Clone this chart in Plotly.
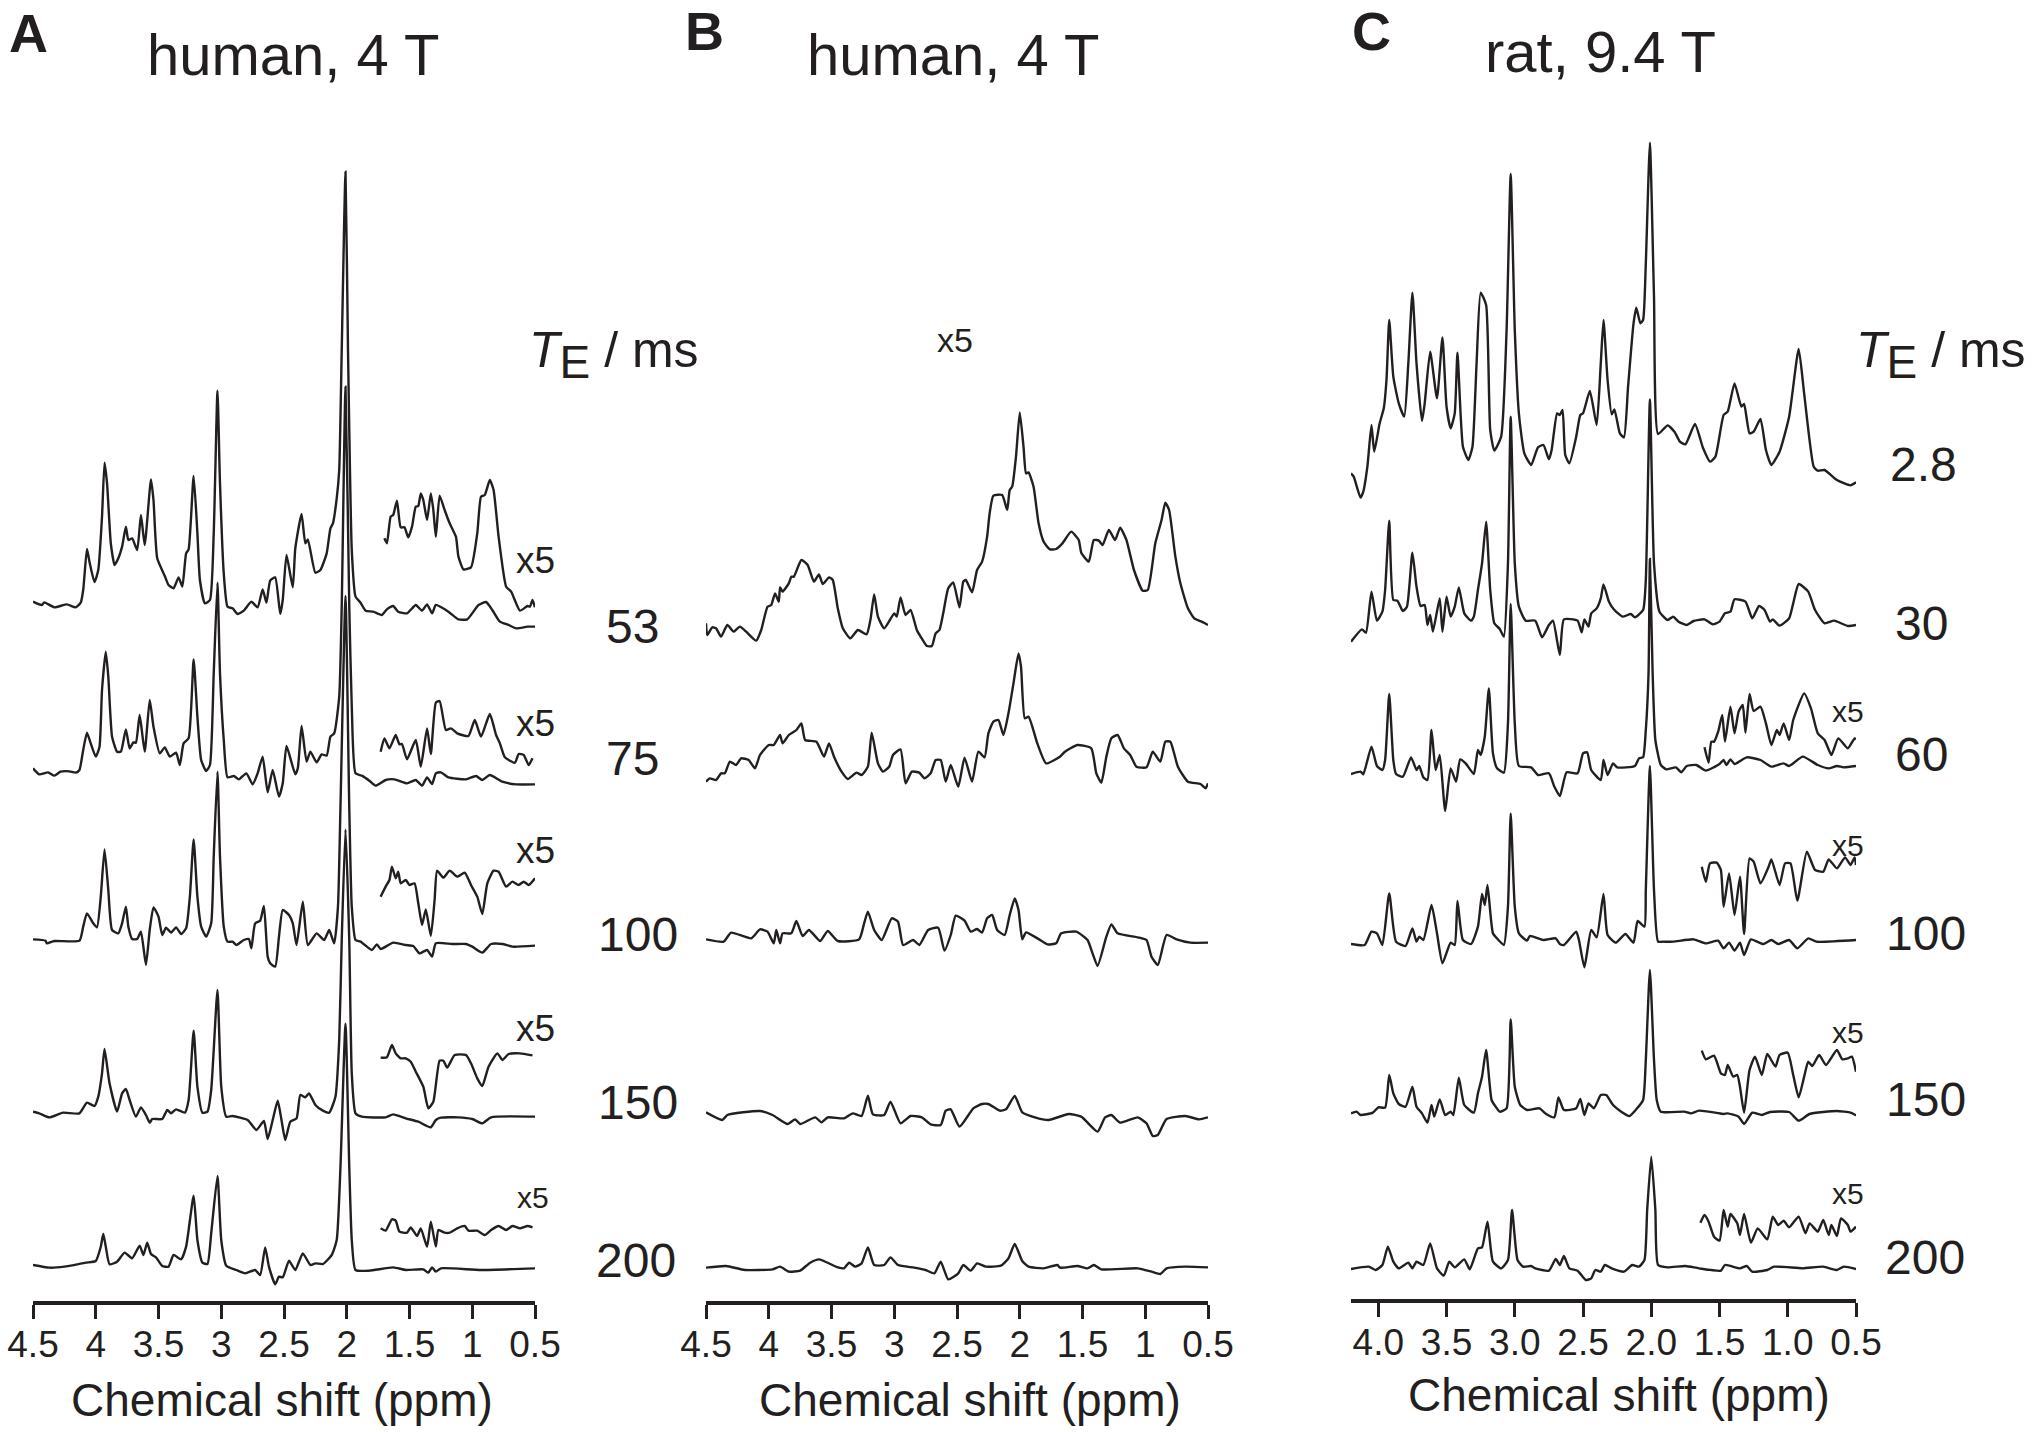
import plotly.graph_objects as go

INK = "#231f20"

# ---------- Panel A: human, 4 T (intensity in arbitrary units above each spectrum's baseline) ----------
A53_PPM = [4.5,4.43,4.41,4.33,4.23,4.16,4.12,4.10,4.07,4.05,4.01,3.98,3.95,3.93,3.91,3.88,3.85,3.82,3.79,3.76,3.74,3.71,3.67,3.64,3.61,3.56,3.54,3.51,3.45,3.42,3.38,3.34,3.31,3.28,3.26,3.22,3.19,3.17,3.13,3.09,3.06,3.03,3.01,2.98,2.95,2.91,2.87,2.82,2.76,2.71,2.67,2.64,2.61,2.57,2.53,2.51,2.48,2.43,2.41,2.36,2.33,2.31,2.25,2.21,2.16,2.13,2.11,2.08,2.06,2.04,2.01,1.99,1.96,1.93,1.89,1.85,1.79,1.72,1.68,1.63,1.59,1.52,1.45,1.40,1.36,1.32,1.29,1.19,1.11,1.04,0.95,0.89,0.84,0.78,0.71,0.65,0.56,0.5]
A53_INT = [0,-10,-2,-17,-8,-17,-3,35,158,120,59,95,255,417,355,175,110,130,165,225,185,190,155,260,170,367,305,130,77,50,40,73,45,145,157,377,205,65,-5,5,205,633,355,85,-15,-20,-37,-27,0,-17,37,-3,63,73,-37,5,140,43,160,263,175,187,87,95,145,220,235,310,395,755,1290,755,155,15,-3,-27,-30,-40,-23,-13,-30,-35,-10,-27,-8,-35,-10,-30,-53,-53,-10,-1,-25,-60,-70,-80,-75,-75]
A53_X5_PPM = [1.70,1.68,1.65,1.63,1.60,1.57,1.54,1.51,1.48,1.45,1.43,1.41,1.39,1.36,1.33,1.31,1.29,1.26,1.22,1.18,1.13,1.11,1.07,1.01,0.96,0.93,0.90,0.86,0.83,0.79,0.73,0.69,0.62,0.56,0.54,0.52,0.5]
A53_X5_INT = [190,175,255,260,303,223,223,193,225,285,287,325,305,245,325,275,195,318,275,235,195,135,97,103,205,315,320,365,335,195,45,30,-27,-13,-15,5,-17]

A75_PPM = [4.5,4.45,4.38,4.33,4.28,4.21,4.16,4.13,4.10,4.07,4.04,4.0,3.97,3.95,3.92,3.90,3.87,3.83,3.8,3.76,3.73,3.7,3.68,3.65,3.61,3.57,3.54,3.49,3.45,3.41,3.36,3.33,3.3,3.26,3.22,3.19,3.16,3.12,3.09,3.06,3.03,3.01,2.98,2.95,2.9,2.86,2.8,2.75,2.71,2.67,2.63,2.59,2.54,2.51,2.48,2.41,2.39,2.36,2.32,2.29,2.24,2.2,2.16,2.13,2.1,2.06,2.04,2.01,1.98,1.96,1.93,1.88,1.82,1.77,1.69,1.62,1.52,1.45,1.4,1.36,1.32,1.29,1.25,1.19,1.05,0.97,0.92,0.86,0.76,0.65,0.5]
A75_INT = [13,-5,1,-9,3,4,0,8,68,120,88,48,78,248,363,288,108,63,63,130,73,91,90,173,63,218,138,58,76,48,60,23,88,103,340,168,38,5,23,298,570,298,98,-14,-10,-20,-2,-35,-2,48,-59,8,-72,-32,80,-5,13,140,33,63,31,55,51,108,118,228,500,1158,500,198,-2,-9,-24,-39,-22,-20,-32,-22,-39,-14,-34,-2,1,-14,-20,-10,-22,-7,-27,-35,-35]
A75_X5_PPM = [1.73,1.70,1.66,1.61,1.58,1.56,1.52,1.45,1.41,1.36,1.33,1.29,1.26,1.21,1.17,1.12,1.03,0.98,0.93,0.86,0.81,0.78,0.74,0.66,0.63,0.59,0.55,0.52]
A75_X5_INT = [63,103,73,113,85,86,40,98,18,133,56,210,215,128,133,118,110,158,108,176,113,88,46,30,56,53,23,43]

A100_PPM = [4.5,4.40,4.39,4.33,4.13,4.1,4.07,4.02,3.99,3.96,3.93,3.9,3.87,3.82,3.79,3.76,3.74,3.71,3.67,3.64,3.6,3.57,3.54,3.5,3.47,3.44,3.4,3.36,3.32,3.28,3.25,3.22,3.19,3.16,3.12,3.08,3.06,3.03,3.01,2.98,2.95,2.91,2.88,2.82,2.78,2.76,2.73,2.69,2.66,2.63,2.61,2.57,2.54,2.51,2.46,2.43,2.4,2.35,2.31,2.24,2.18,2.14,2.1,2.07,2.05,2.01,1.98,1.96,1.93,1.89,1.8,1.76,1.73,1.63,1.53,1.47,1.42,1.36,1.32,1.29,1.16,1.05,1.0,0.92,0.85,0.76,0.68,0.5]
A100_INT = [2,-2,-10,-3,-2,40,80,50,38,130,272,150,30,20,50,100,40,3,3,25,-75,30,98,70,15,37,22,38,18,35,130,302,130,40,10,50,250,505,250,40,-5,-5,-15,0,3,-25,50,58,102,-50,-70,-80,10,90,75,50,-15,115,-15,20,0,30,-10,100,400,1032,400,100,0,-5,-30,-13,-27,-8,-15,-18,-40,-30,-50,-10,-12,-12,-20,-38,-12,-12,-20,-17]
A100_X5_PPM = [1.73,1.69,1.66,1.64,1.61,1.59,1.57,1.53,1.5,1.46,1.43,1.4,1.37,1.33,1.3,1.28,1.23,1.18,1.12,1.06,1.01,0.96,0.92,0.88,0.83,0.79,0.73,0.68,0.63,0.59,0.55,0.5]
A100_X5_INT = [130,160,180,220,185,205,170,180,165,170,110,45,92,12,120,208,187,208,190,202,165,130,78,170,208,205,160,175,165,175,165,185]

A150_PPM = [4.5,4.45,4.37,4.26,4.13,4.07,4.01,3.98,3.95,3.93,3.89,3.83,3.79,3.76,3.73,3.68,3.64,3.6,3.57,3.55,3.47,3.43,3.4,3.36,3.29,3.26,3.22,3.19,3.15,3.11,3.08,3.03,3,2.96,2.91,2.79,2.72,2.66,2.63,2.59,2.55,2.52,2.49,2.45,2.4,2.37,2.33,2.3,2.25,2.19,2.14,2.09,2.06,2.04,2.01,1.98,1.96,1.93,1.88,1.69,1.63,1.53,1.43,1.33,1.29,1.25,1.11,1,0.92,0.85,0.5]
A150_INT = [5,0,-12,2,0,32,22,50,120,193,90,5,60,73,40,-10,18,-5,-28,-17,-17,10,0,12,2,40,248,80,2,5,70,370,80,-10,-8,-20,-50,-23,-77,-20,38,-20,-80,-25,-15,55,48,60,25,8,2,50,220,520,852,520,120,0,-10,-12,-3,-15,-25,-42,-20,-13,-12,-17,-30,-12,-10]
A150_X5_PPM = [1.73,1.68,1.64,1.61,1.57,1.53,1.49,1.45,1.39,1.35,1.31,1.26,1.23,1.2,1.14,1.05,1.01,0.96,0.92,0.87,0.8,0.76,0.71,0.62,0.52]
A150_X5_INT = [167,168,205,180,165,165,155,125,80,15,35,158,158,137,175,175,150,105,82,140,180,160,178,180,174]

A200_PPM = [4.5,4.37,4.25,4.08,4,3.96,3.94,3.92,3.89,3.83,3.77,3.71,3.65,3.62,3.59,3.56,3.52,3.47,3.42,3.38,3.32,3.28,3.22,3.19,3.15,3.11,3.08,3.03,3,2.96,2.88,2.81,2.73,2.69,2.65,2.62,2.57,2.54,2.51,2.46,2.41,2.35,2.29,2.25,2.19,2.12,2.08,2.05,2.01,1.98,1.96,1.93,1.82,1.63,1.53,1.39,1.35,1.32,1.29,1.25,0.93,0.5]
A200_INT = [2,-6,-3,9,14,57,95,57,4,12,39,22,60,32,69,35,25,-1,-3,32,19,57,210,77,9,5,97,269,77,0,-13,-23,-13,-28,55,-3,-56,-33,-35,15,-13,37,2,7,5,32,77,297,726,297,77,-13,-15,-5,-13,-11,-21,-5,-18,-8,-13,-8]
A200_X5_PPM = [1.73,1.69,1.64,1.61,1.58,1.52,1.49,1.44,1.41,1.36,1.33,1.29,1.27,1.22,1.18,1.12,1.06,1.03,0.96,0.9,0.85,0.79,0.73,0.68,0.62,0.56,0.52]
A200_X5_INT = [112,105,139,135,102,99,115,89,112,57,132,57,107,99,99,112,119,105,105,92,107,119,107,119,112,119,115]

# ---------- Panel B: human, 4 T, all spectra x5 ----------
B53_PPM = [4.5,4.49,4.45,4.42,4.38,4.33,4.28,4.23,4.18,4.1,4.06,4.01,3.98,3.95,3.92,3.91,3.89,3.84,3.82,3.8,3.74,3.69,3.64,3.6,3.57,3.52,3.49,3.45,3.41,3.35,3.29,3.22,3.19,3.16,3.13,3.08,3,2.98,2.95,2.91,2.87,2.82,2.79,2.74,2.7,2.67,2.64,2.61,2.57,2.53,2.48,2.45,2.43,2.38,2.34,2.3,2.26,2.24,2.21,2.14,2.1,2.08,2.06,2.03,2.0,1.97,1.95,1.93,1.89,1.85,1.81,1.76,1.71,1.66,1.59,1.53,1.51,1.45,1.41,1.37,1.34,1.29,1.24,1.2,1.15,1.09,1.02,0.98,0.92,0.87,0.84,0.81,0.76,0.72,0.66,0.61,0.55,0.5]
B53_INT = [20,-15,8,5,-20,15,-5,10,-5,-32,0,70,75,110,85,128,115,140,160,160,210,195,145,167,138,158,150,65,5,-25,0,-13,30,107,40,5,50,40,98,45,60,0,-20,-48,-48,-10,0,50,125,143,68,145,150,113,180,205,280,350,403,405,360,420,430,520,653,550,470,473,430,320,265,242,243,260,295,270,232,205,270,268,255,300,270,307,270,180,118,120,260,330,382,360,220,140,65,35,25,15]

B75_PPM = [4.5,4.47,4.42,4.38,4.35,4.31,4.26,4.22,4.16,4.11,4.07,4,3.96,3.91,3.89,3.84,3.78,3.74,3.71,3.62,3.56,3.52,3.48,3.42,3.37,3.3,3.26,3.21,3.18,3.13,3.09,3.04,3.01,2.95,2.91,2.86,2.8,2.76,2.71,2.67,2.63,2.59,2.55,2.49,2.44,2.38,2.33,2.28,2.25,2.21,2.17,2.13,2.09,2.05,2.01,1.99,1.96,1.93,1.86,1.79,1.68,1.64,1.54,1.43,1.39,1.35,1.31,1.27,1.22,1.17,1.12,1.07,0.99,0.94,0.88,0.84,0.8,0.74,0.66,0.56,0.52,0.5]
B75_INT = [0,10,5,25,25,60,50,70,65,40,80,110,110,140,115,140,155,175,125,120,75,115,75,30,8,27,20,45,147,55,30,45,80,97,-5,30,27,10,25,65,65,0,50,-15,72,0,90,73,145,180,185,140,205,295,385,345,190,195,115,55,75,90,110,100,25,-3,75,130,140,100,80,45,43,90,60,120,120,45,0,-7,-20,-5]

B100_PPM = [4.5,4.36,4.3,4.14,4.07,4.01,3.96,3.94,3.91,3.89,3.82,3.78,3.73,3.68,3.59,3.53,3.45,3.28,3.24,3.21,3.16,3.1,3.02,2.97,2.93,2.85,2.8,2.73,2.65,2.6,2.55,2.51,2.44,2.39,2.34,2.3,2.26,2.22,2.18,2.12,2.08,2.04,2.01,1.98,1.95,1.86,1.78,1.71,1.67,1.55,1.46,1.42,1.38,1.31,1.27,1.22,1.06,0.99,0.95,0.9,0.83,0.75,0.64,0.5]
B100_INT = [0,-7,20,3,30,23,-12,28,-12,18,18,55,10,28,-5,25,-5,0,48,83,28,-2,63,53,-17,-2,-17,28,35,-34,13,71,56,23,31,20,63,73,28,13,73,123,88,0,21,3,-15,-12,18,23,-2,-42,-80,8,45,18,6,-2,-52,-77,13,0,-10,-10]

B150_PPM = [4.5,4.37,4.33,4.07,3.97,3.85,3.79,3.75,3.63,3.58,3.53,3.4,3.33,3.26,3.21,3.17,3.08,3.03,2.95,2.87,2.78,2.71,2.63,2.59,2.55,2.48,2.37,2.3,2.25,2.16,2.11,2.04,1.98,1.88,1.77,1.61,1.51,1.38,1.32,1.27,1.2,1.06,0.99,0.94,0.9,0.83,0.68,0.57,0.5]
B150_INT = [0,-23,-8,4,-8,-35,-21,-35,-15,-30,-15,-18,-3,-11,50,-6,-8,32,-33,-11,-15,-36,-38,5,9,-43,12,25,25,5,9,49,0,-15,-23,-5,-13,-58,-15,-8,-31,-15,-33,-71,-68,-20,-11,-21,-15]

B200_PPM = [4.5,4.34,4.19,3.97,3.91,3.84,3.75,3.67,3.6,3.45,3.4,3.36,3.31,3.26,3.21,3.16,3.08,3.03,2.97,2.84,2.75,2.68,2.63,2.57,2.49,2.45,2.39,2.34,2.27,2.15,2.09,2.04,1.98,1.93,1.81,1.7,1.68,1.54,1.46,1.41,1.35,1.06,0.95,0.88,0.83,0.68,0.5]
B200_INT = [0,5,-7,-5,3,-12,-9,15,25,1,-2,15,3,13,61,8,8,31,8,0,-7,-17,18,-35,-17,8,-9,13,3,6,28,71,20,3,-2,8,0,5,-2,8,-5,-2,-12,-19,-2,3,1]

# ---------- Panel C: rat, 9.4 T ----------
C28_PPM = [4.2,4.18,4.13,4.11,4.08,4.05,4.03,3.99,3.96,3.94,3.92,3.89,3.85,3.81,3.78,3.75,3.72,3.68,3.66,3.62,3.57,3.53,3.5,3.47,3.44,3.42,3.38,3.34,3.31,3.28,3.25,3.21,3.18,3.15,3.1,3.06,3.03,3,2.97,2.93,2.88,2.83,2.79,2.75,2.73,2.69,2.67,2.65,2.63,2.6,2.55,2.52,2.5,2.45,2.4,2.37,2.35,2.32,2.29,2.27,2.23,2.2,2.17,2.13,2.11,2.08,2.06,2.04,2.01,1.98,1.95,1.88,1.83,1.79,1.75,1.68,1.62,1.57,1.53,1.47,1.44,1.39,1.34,1.32,1.28,1.25,1.2,1.16,1.12,1.06,0.99,0.92,0.88,0.81,0.78,0.73,0.64,0.54,0.5]
C28_INT = [-30,-40,-103,-85,-10,115,35,120,165,250,430,260,180,140,300,512,300,127,180,335,195,378,170,105,150,332,50,10,50,300,512,475,100,38,80,400,868,400,150,30,-5,48,55,12,40,150,145,160,25,0,80,145,150,217,115,300,430,250,147,162,90,78,230,420,467,420,430,600,962,500,88,114,95,65,57,118,45,5,20,145,155,240,170,178,90,95,133,40,-5,35,140,343,210,-10,-22,-20,-50,-66,-57]

C30_PPM = [4.2,4.12,4.09,4.05,4.01,3.97,3.95,3.92,3.89,3.86,3.82,3.79,3.75,3.72,3.69,3.66,3.64,3.62,3.6,3.55,3.53,3.5,3.47,3.44,3.41,3.37,3.32,3.3,3.27,3.24,3.21,3.18,3.15,3.11,3.08,3.05,3.03,3,2.97,2.92,2.85,2.8,2.75,2.72,2.67,2.64,2.54,2.51,2.49,2.46,2.44,2.4,2.37,2.35,2.31,2.27,2.21,2.15,2.12,2.06,2.04,2.01,1.98,1.94,1.88,1.84,1.8,1.74,1.69,1.61,1.55,1.5,1.46,1.42,1.39,1.31,1.26,1.21,1.17,1.13,1.11,1.06,0.99,0.96,0.92,0.85,0.8,0.73,0.66,0.56,0.5]
C30_INT = [-50,-13,-23,100,13,40,105,313,75,73,42,55,217,115,57,60,0,30,-20,80,-20,85,25,55,113,35,13,25,105,185,310,105,5,-12,-35,185,625,185,55,13,13,-37,0,13,-90,17,13,-22,17,-5,35,50,80,122,70,45,25,33,23,45,135,677,185,40,15,25,10,0,12,17,2,10,35,40,77,70,20,57,45,10,17,-2,20,65,123,100,45,5,13,-3,0]

C60_PPM = [4.2,4.13,4.11,4.05,4.01,3.97,3.95,3.92,3.89,3.87,3.82,3.76,3.72,3.7,3.67,3.64,3.61,3.58,3.55,3.51,3.47,3.43,3.4,3.36,3.3,3.27,3.25,3.22,3.19,3.16,3.13,3.08,3.05,3.03,3,2.97,2.88,2.83,2.75,2.71,2.67,2.62,2.54,2.5,2.47,2.44,2.37,2.35,2.32,2.28,2.25,2.12,2.09,2.06,2.04,2.02,2.01,1.99,1.97,1.93,1.89,1.82,1.78,1.74,1.67,1.6,1.5,1.47,1.45,1.42,1.39,1.3,1.2,1.12,1.03,0.99,0.89,0.78,0.7,0.64,0.59,0.5]
C60_INT = [0,7,-1,82,24,12,42,240,42,0,-8,50,12,24,-10,-18,132,12,57,-111,17,-23,44,32,0,72,57,112,257,62,17,4,152,510,152,24,20,-3,2,-38,-66,5,2,62,65,12,-18,42,-3,32,20,24,47,50,132,302,645,302,102,27,14,20,5,24,27,10,30,42,27,44,30,50,42,22,32,24,52,27,17,24,20,24]
C60_X5_PPM = [1.61,1.58,1.56,1.54,1.51,1.48,1.46,1.42,1.39,1.36,1.33,1.31,1.28,1.25,1.2,1.16,1.12,1.08,1.06,1.03,0.99,0.96,0.88,0.83,0.78,0.73,0.68,0.63,0.56,0.51,0.5]
C60_X5_INT = [80,34,97,97,127,177,97,202,122,187,207,124,240,189,202,152,87,132,117,152,102,162,242,197,122,102,57,107,77,107,104]

C100_PPM = [4.2,4.1,4.05,4.01,3.97,3.92,3.87,3.8,3.75,3.72,3.7,3.67,3.61,3.57,3.53,3.47,3.44,3.42,3.38,3.32,3.27,3.24,3.22,3.2,3.16,3.12,3.08,3.05,3.03,3,2.97,2.91,2.89,2.79,2.7,2.67,2.64,2.55,2.53,2.49,2.44,2.4,2.35,2.32,2.26,2.19,2.13,2.1,2.05,2.04,2.01,1.98,1.95,1.91,1.84,1.69,1.6,1.51,1.47,1.43,1.39,1.35,1.32,1.27,1.18,1.12,1.07,0.99,0.93,0.85,0.79,0.5]
C100_INT = [0,-3,37,32,-3,152,7,-6,47,7,22,12,117,32,-58,4,-3,129,12,0,52,150,117,177,32,12,-3,112,392,112,32,10,24,12,17,0,-3,37,12,-70,42,20,150,27,4,30,4,69,52,162,534,162,7,7,7,14,2,10,-13,4,-20,4,-33,14,0,12,0,12,-13,17,7,12]
C100_X5_PPM = [1.63,1.6,1.57,1.52,1.49,1.47,1.43,1.39,1.35,1.32,1.28,1.25,1.2,1.14,1.12,1.06,1.02,0.98,0.93,0.86,0.8,0.74,0.7,0.64,0.58,0.54,0.51,0.5]
C100_X5_INT = [232,187,242,244,222,112,212,87,202,30,257,247,182,232,254,177,242,242,130,277,222,217,254,227,260,237,260,237]

C150_PPM = [4.2,4.16,4.13,4.04,4,3.95,3.92,3.89,3.85,3.8,3.75,3.72,3.68,3.64,3.61,3.59,3.55,3.51,3.47,3.45,3.41,3.37,3.3,3.27,3.24,3.21,3.17,3.14,3.11,3.06,3.03,3,2.96,2.91,2.82,2.77,2.71,2.68,2.64,2.55,2.52,2.49,2.46,2.42,2.37,2.33,2.28,2.22,2.16,2.11,2.06,2.04,2.01,1.98,1.96,1.93,1.76,1.71,1.65,1.53,1.47,1.44,1.36,1.32,1.26,1.19,1.13,0.99,0.92,0.84,0.64,0.54,0.5]
C150_INT = [-2,3,-7,0,16,15,113,58,26,18,78,18,-2,-30,23,-12,40,-7,3,-7,105,23,0,58,108,188,38,18,3,13,280,78,23,8,13,-4,-14,46,8,13,41,-7,28,13,53,53,23,3,-10,10,38,158,428,158,38,3,3,-2,6,0,-4,-2,-12,-34,0,-7,2,2,-24,-4,5,0,-8]
C150_X5_PPM = [1.63,1.6,1.54,1.49,1.46,1.44,1.4,1.37,1.35,1.32,1.28,1.24,1.19,1.15,1.09,1.06,1,0.96,0.92,0.88,0.85,0.82,0.77,0.72,0.64,0.6,0.56,0.53,0.5]
C150_X5_INT = [186,160,171,118,113,143,108,113,78,0,128,168,113,176,138,173,180,113,46,108,153,140,173,143,188,160,163,168,123]

C200_PPM = [4.2,4.07,4.02,3.97,3.93,3.89,3.85,3.78,3.75,3.72,3.67,3.62,3.57,3.52,3.48,3.44,3.37,3.33,3.27,3.24,3.2,3.16,3.1,3.05,3.02,2.98,2.94,2.88,2.85,2.75,2.7,2.67,2.64,2.6,2.54,2.48,2.44,2.41,2.37,2.34,2.29,2.2,2.14,2.09,2.05,2.03,2,1.97,1.95,1.88,1.75,1.65,1.49,1.46,1.35,1.3,1.26,1.15,1.1,0.89,0.74,0.64,0.59,0.5]
C200_INT = [-1,6,-4,11,66,21,1,18,1,21,11,76,1,-21,21,4,28,-2,61,64,141,21,1,26,176,26,6,8,1,-6,29,11,38,1,-6,-34,-29,-4,-9,11,1,-9,11,6,26,176,336,176,11,4,8,1,-6,11,1,8,-9,-4,6,1,6,-4,6,-1]
C200_X5_PPM = [1.64,1.61,1.58,1.54,1.5,1.47,1.44,1.42,1.37,1.35,1.32,1.27,1.22,1.15,1.11,1.07,1.03,0.99,0.92,0.87,0.84,0.78,0.74,0.7,0.68,0.64,0.61,0.56,0.54,0.5]
C200_X5_INT = [138,161,141,96,84,176,126,164,136,101,164,78,121,88,156,131,144,124,156,106,136,111,146,101,131,98,151,131,111,126]

# tick labels and captions
TICKS_AB = [4.5, 4, 3.5, 3, 2.5, 2, 1.5, 1, 0.5]
TICK_TEXT_AB = ["4.5", "4", "3.5", "3", "2.5", "2", "1.5", "1", "0.5"]
TICKS_C = [4.0, 3.5, 3.0, 2.5, 2.0, 1.5, 1.0, 0.5]
TICK_TEXT_C = ["4.0", "3.5", "3.0", "2.5", "2.0", "1.5", "1.0", "0.5"]

# stacking: (axis, ppm, intensity, baseline lift)
STACK = [
    ("x", A53_PPM, A53_INT, 2491), ("x", A53_X5_PPM, A53_X5_INT, 2491),
    ("x", A75_PPM, A75_INT, 1978), ("x", A75_X5_PPM, A75_X5_INT, 1978),
    ("x", A100_PPM, A100_INT, 1476), ("x", A100_X5_PPM, A100_X5_INT, 1476),
    ("x", A150_PPM, A150_INT, 956), ("x", A150_X5_PPM, A150_X5_INT, 956),
    ("x", A200_PPM, A200_INT, 499), ("x", A200_X5_PPM, A200_X5_INT, 499),
    ("x2", B53_PPM, B53_INT, 2406), ("x2", B75_PPM, B75_INT, 1951),
    ("x2", B100_PPM, B100_INT, 1478), ("x2", B150_PPM, B150_INT, 959),
    ("x2", B200_PPM, B200_INT, 493),
    ("x3", C28_PPM, C28_INT, 2906), ("x3", C30_PPM, C30_INT, 2421),
    ("x3", C60_PPM, C60_INT, 1974), ("x3", C60_X5_PPM, C60_X5_INT, 1974),
    ("x3", C100_PPM, C100_INT, 1464), ("x3", C100_X5_PPM, C100_X5_INT, 1464),
    ("x3", C150_PPM, C150_INT, 958), ("x3", C150_X5_PPM, C150_X5_INT, 958),
    ("x3", C200_PPM, C200_INT, 490), ("x3", C200_X5_PPM, C200_X5_INT, 490),
]

W, H = 2032, 1432


def fx(px):
    return px / W


def fy(py):
    return 1 - py / H


fig = go.Figure()
for axis, ppm, intensity, lift in STACK:
    fig.add_trace(go.Scatter(
        x=ppm, y=[v + lift for v in intensity], xaxis=axis, yaxis="y",
        mode="lines", line=dict(color=INK, width=2.4, shape="spline", smoothing=0.5),
        showlegend=False, hoverinfo="skip"))


def label(text, px, py, size, bold=False):
    fig.add_annotation(
        text=f"<b>{text}</b>" if bold else text, xref="paper", yref="paper",
        x=fx(px), y=fy(py), xanchor="center", yanchor="middle", showarrow=False,
        font=dict(family="Liberation Sans", size=size, color=INK))


for t, px, py in [("A", 28, 33), ("B", 704, 31), ("C", 1371, 31)]:
    label(t, px, py, 54, bold=True)
for t, px, py in [("human, 4 T", 293, 54), ("human, 4 T", 953, 54), ("rat, 9.4 T", 1600, 52)]:
    label(t, px, py, 58)
for t, px, py in [("Chemical shift (ppm)", 282, 1400), ("Chemical shift (ppm)", 970, 1400),
                  ("Chemical shift (ppm)", 1619, 1395)]:
    label(t, px, py, 46)
te_label = '<i>T</i><sub><span style="font-size:46px">E</span></sub> / ms'
for px in (614, 1941):
    label(te_label, px, 355, 50)
for t, px, py in [("53", 632, 626), ("75", 632, 758), ("100", 638, 934), ("150", 638, 1102),
                  ("200", 636, 1260), ("2.8", 1923, 464), ("30", 1921, 623), ("60", 1921, 754),
                  ("100", 1926, 933), ("150", 1926, 1099), ("200", 1925, 1257)]:
    label(t, px, py, 48)
for px, py, size in [(535, 561, 37), (535, 723, 37), (535, 851, 37), (535, 1028, 37), (533, 1197, 30),
                     (955, 340, 34), (1848, 711, 30), (1848, 845, 30), (1848, 1032, 30), (1848, 1193, 30)]:
    label("x5", px, py, size)

axis_style = dict(
    anchor="free", showgrid=False, zeroline=False, showline=True, linecolor=INK, linewidth=3.5,
    ticks="outside", ticklen=14, tickwidth=3, tickcolor=INK, ticklabelstandoff=-6,
    ticklabeloverflow="allow",
    tickfont=dict(family="Liberation Sans", size=37, color=INK), tickmode="array")

fig.update_layout(
    width=W, height=H, margin=dict(l=0, r=0, t=0, b=0, autoexpand=False), autosize=False,
    paper_bgcolor="white", plot_bgcolor="white", showlegend=False,
    xaxis=dict(domain=[fx(33), fx(535)], range=[4.5, 0.5], position=fy(1303),
               tickvals=TICKS_AB, ticktext=TICK_TEXT_AB, **axis_style),
    xaxis2=dict(domain=[fx(706), fx(1208)], range=[4.5, 0.5], position=fy(1303),
                tickvals=TICKS_AB, ticktext=TICK_TEXT_AB, **axis_style),
    xaxis3=dict(domain=[fx(1351), fx(1856)], range=[4.2, 0.5], position=fy(1301),
                tickvals=TICKS_C, ticktext=TICK_TEXT_C, **axis_style),
    yaxis=dict(domain=[0, 1], range=[0, 3 * H], visible=False, anchor="free", position=0),
)

# the figure fills the window exactly: drop the page's default body margin
fig.write_html("out.html", config={"displayModeBar": False},
               post_script="document.body.style.margin='0';document.body.style.overflow='hidden';")
